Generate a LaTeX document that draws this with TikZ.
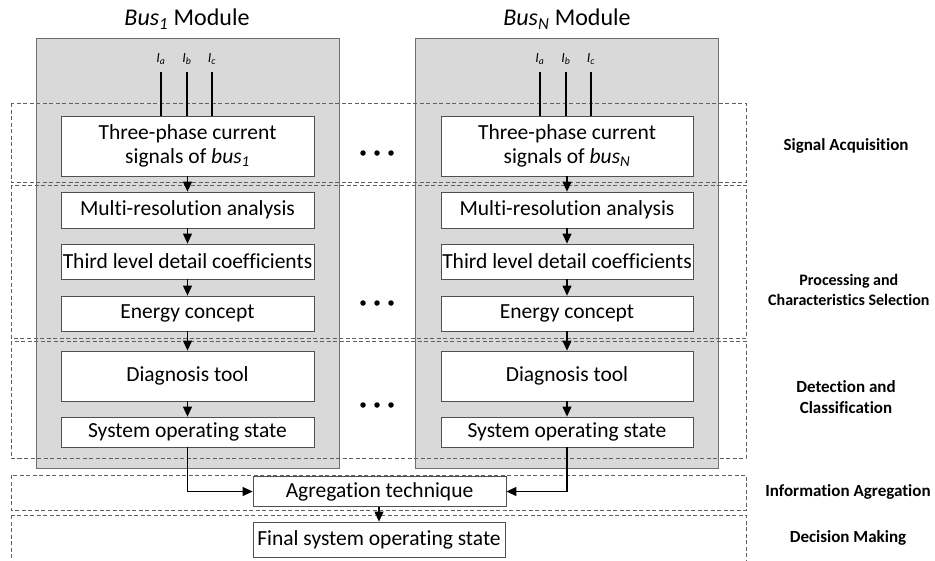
\documentclass[tikz,border=0pt]{standalone}
\usepackage{fontspec}
\setmainfont{Carlito}[Ligatures=NoCommon]
\usetikzlibrary{arrows.meta}
\definecolor{modfill}{HTML}{D9D9D9}
\definecolor{modline}{HTML}{6F6F6F}
\definecolor{boxline}{HTML}{505050}
\definecolor{dashline}{HTML}{606060}
\tikzset{
  module/.style={draw=modline, fill=modfill, line width=0.8pt},
  stage/.style={draw=dashline, line width=0.8pt, dash pattern=on 4pt off 2.5pt},
  stepbox/.style={draw=boxline, fill=white, line width=0.8pt, font=\fontsize{21.5}{24}\selectfont, align=center, inner sep=0pt},
  flow/.style={line width=1.1pt, -{Triangle[length=10pt,width=9pt]}},
  phase/.style={line width=1.3pt},
  stagelabel/.style={font=\bfseries\fontsize{17}{20.5}\selectfont, align=center},
  header/.style={font=\fontsize{24}{28}\selectfont},
  dotmark/.style={fill=black, draw=none, circle, minimum size=5.5pt, inner sep=0pt}
}
\newcommand{\subit}[1]{\textsubscript{\itshape #1}}
\begin{document}
\begin{tikzpicture}[x=1pt, y=-1pt]
\useasboundingbox (0,0) rectangle (935,560);

% bus modules (grey panels)
\draw[module] (36,38) rectangle (339,468);
\draw[module] (415,38) rectangle (718,468);

\node[header] (h1) at (187,19) {{\itshape Bus\subit{1}} Module};
\node[header] (hN) at (567,19) {{\itshape Bus\subit{N}} Module};

% stage frames
\draw[stage] (11,103) rectangle (746,182);
\draw[stage] (11,185) rectangle (746,338);
\draw[stage] (11,341) rectangle (746,458);
\draw[stage] (11,475) rectangle (746,510);
\draw[stage] (11,515) rectangle (746,565);

% processing blocks of bus 1
\node[stepbox, minimum width=253pt, minimum height=60pt] (s1) at (187.5,146) {Three-phase current\\signals of {\itshape bus\subit{1}}};
\node[stepbox, minimum width=253pt, minimum height=36pt] (m1) at (187.5,210) {Multi-resolution analysis};
\node[stepbox, minimum width=253pt, minimum height=35pt] (t1) at (187.5,261.5) {Third level detail coefficients};
\node[stepbox, minimum width=253pt, minimum height=35pt] (e1) at (187.5,313.5) {Energy concept};
\node[stepbox, minimum width=253pt, minimum height=50pt] (d1) at (187.5,376) {Diagnosis tool};
\node[stepbox, minimum width=253pt, minimum height=30pt] (o1) at (187.5,432) {System operating state};

% processing blocks of bus N
\node[stepbox, minimum width=252pt, minimum height=60pt] (sN) at (567,146) {Three-phase current\\signals of {\itshape bus\subit{N}}};
\node[stepbox, minimum width=252pt, minimum height=36pt] (mN) at (567,210) {Multi-resolution analysis};
\node[stepbox, minimum width=252pt, minimum height=35pt] (tN) at (567,261.5) {Third level detail coefficients};
\node[stepbox, minimum width=252pt, minimum height=35pt] (eN) at (567,313.5) {Energy concept};
\node[stepbox, minimum width=252pt, minimum height=50pt] (dN) at (567,376) {Diagnosis tool};
\node[stepbox, minimum width=252pt, minimum height=30pt] (oN) at (567,432) {System operating state};

% common blocks
\node[stepbox, minimum width=253pt, minimum height=30pt] (agg) at (379.5,491.5) {Agregation technique};
\node[stepbox, minimum width=252pt, minimum height=35pt] (fin) at (379,539.5) {Final system operating state};

% phase current inputs
\foreach \m/\xa/\xb/\xc in {1/161/187/212, N/540/566/591} {
  \coordinate (ia\m) at (\xa,72);
  \coordinate (ib\m) at (\xb,72);
  \coordinate (ic\m) at (\xc,72);
  \draw[phase] (ia\m) -- (ia\m |- s\m.north);
  \draw[phase] (ib\m) -- (ib\m |- s\m.north);
  \draw[phase] (ic\m) -- (ic\m |- s\m.north);
  \node[font=\fontsize{14}{16}\selectfont\itshape] (la\m) at (\xa,59) {I\subit{a}};
  \node[font=\fontsize{14}{16}\selectfont\itshape] (lb\m) at (\xb,59) {I\subit{b}};
  \node[font=\fontsize{14}{16}\selectfont\itshape] (lc\m) at (\xc,59) {I\subit{c}};
}

% flow inside each module
\foreach \m in {1,N} {
  \draw[flow] (s\m) -- (m\m);
  \draw[flow] (m\m) -- (t\m);
  \draw[flow] (t\m) -- (e\m);
  \draw[flow] (e\m) -- (d\m);
  \draw[flow] (d\m) -- (o\m);
}

% aggregation
\draw[flow] (o1.south) |- (agg.west);
\draw[flow] (oN.south) |- (agg.east);
\draw[flow] (agg.south -| fin.north) -- (fin.north);

% ellipsis between modules
\foreach \y [count=\i] in {153,303,405} {
  \node[dotmark] (dl\i) at (363,\y) {};
  \node[dotmark] (dm\i) at (377,\y) {};
  \node[dotmark] (dr\i) at (391,\y) {};
}

% stage labels
\node[stagelabel] (ls1) at (846,146) {Signal Acquisition};
\node[stagelabel, font=\bfseries\fontsize{16}{20.5}\selectfont, anchor=east] (ls2) at (933,290) {Processing and\\Characteristics Selection};
\node[stagelabel] (ls3) at (846,397) {Detection and\\Classification};
\node[stagelabel] (ls4) at (848,492) {Information Agregation};
\node[stagelabel] (ls5) at (848,538) {Decision Making};
\end{tikzpicture}
\end{document}
